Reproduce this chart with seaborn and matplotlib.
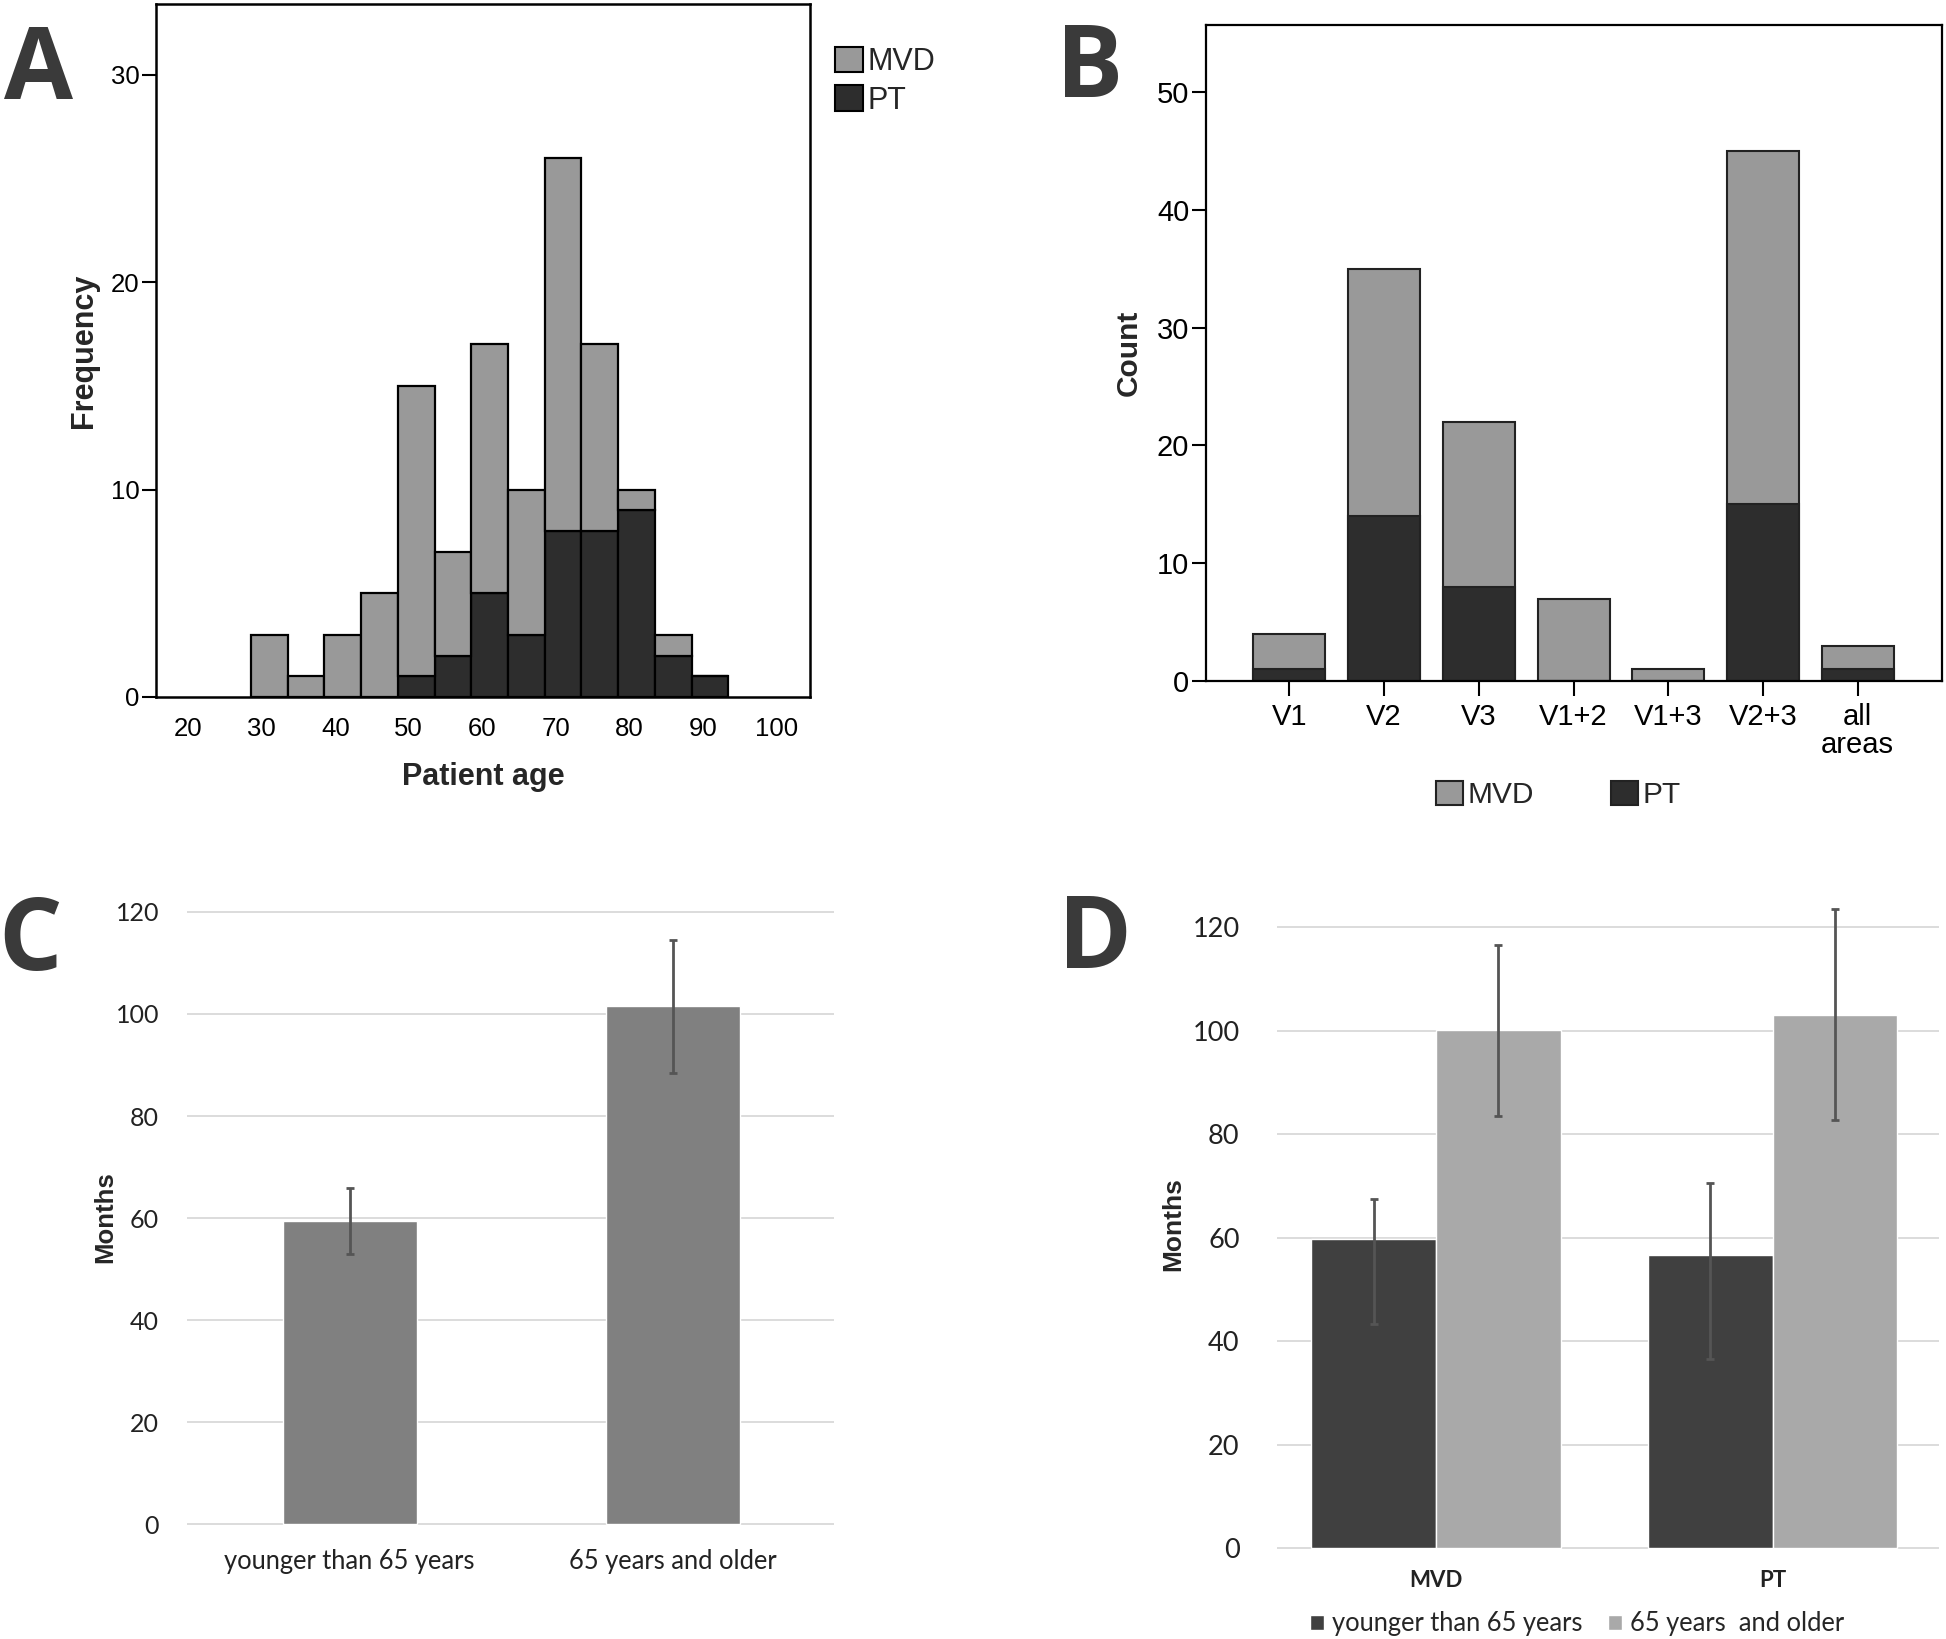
import numpy as np
import pandas as pd
import matplotlib
matplotlib.use("Agg")
import matplotlib.pyplot as plt
import seaborn as sns
from matplotlib.patches import Patch

# ---------------- data ----------------
# Panel A: stacked histogram of patient age (bin width 5)
age_bin_edges = [28.5, 33.5, 38.5, 43.5, 48.5, 53.5, 58.5, 63.5, 68.5, 73.5, 78.5, 83.5, 88.5, 93.5]
age_bin_centers = [31, 36, 41, 46, 51, 56, 61, 66, 71, 76, 81, 86, 91]
mvd_age_counts = [3, 1, 3, 5, 14, 5, 12, 7, 18, 9, 1, 1, 0]
pt_age_counts = [0, 0, 0, 0, 1, 2, 5, 3, 8, 8, 9, 2, 1]

# Panel B: affected trigeminal areas
b_categories = ["V1", "V2", "V3", "V1+2", "V1+3", "V2+3", "all\nareas"]
b_mvd = [3, 21, 14, 7, 1, 30, 2]
b_pt = [1, 14, 8, 0, 0, 15, 1]

# Panel C: months by age group
c_categories = ["younger than 65 years", "65 years and older"]
c_means = [59.4, 101.5]
c_err = [6.5, 13.0]

# Panel D: months by procedure and age group
d_groups = ["MVD", "PT"]
d_age_levels = ["younger than 65 years", "65 years  and older"]
d_young = [59.8, 56.7]
d_old = [100.1, 103.0]
d_young_err_low = [16.6, 20.2]
d_young_err_high = [7.6, 13.8]
d_old_err_low = [16.7, 20.3]
d_old_err_high = [16.5, 20.4]

# ---------------- style ----------------
sns.set_theme(style="white")
plt.rcParams["font.family"] = ["Liberation Sans", "DejaVu Sans"]

MVD_COLOR = "#999999"
PT_COLOR = "#2d2d2d"
W, H = 1946, 1639

fig = plt.figure(figsize=(W / 100, H / 100), dpi=100)
fig.patch.set_facecolor("white")


def frac(left, top, right, bottom):
    return [left / W, 1 - bottom / H, (right - left) / W, (bottom - top) / H]


# ---------------- Panel A ----------------
axA = fig.add_axes(frac(156, 4, 810, 697))
df_a = pd.DataFrame({
    "age": age_bin_centers * 2,
    "n": mvd_age_counts + pt_age_counts,
    "group": ["MVD"] * len(mvd_age_counts) + ["PT"] * len(pt_age_counts),
})
sns.histplot(df_a, x="age", weights="n", hue="group", hue_order=["MVD", "PT"],
             multiple="stack", bins=age_bin_edges,
             palette={"MVD": MVD_COLOR, "PT": PT_COLOR},
             edgecolor="black", linewidth=1.6, alpha=1, legend=False, ax=axA)
axA.set_xlim(15.6, 104.6)
axA.set_ylim(0, 33.4)
axA.set_xticks(range(20, 101, 10))
axA.set_yticks([0, 10, 20, 30])
axA.tick_params(axis="x", length=0, pad=14.5, labelsize=18.5, colors="black")
axA.tick_params(axis="y", left=True, length=10, width=1.5, pad=2, labelsize=18.5,
                direction="out", colors="black")
for s in axA.spines.values():
    s.set_visible(True)
    s.set_color("black")
    s.set_linewidth(1.8)
axA.set_xlabel("Patient age", fontsize=22, fontweight="bold", labelpad=15)
axA.set_ylabel("Frequency", fontsize=22, fontweight="bold", labelpad=8.5)
fig.legend(handles=[Patch(facecolor=MVD_COLOR, edgecolor="black", linewidth=1.5),
                    Patch(facecolor=PT_COLOR, edgecolor="black", linewidth=1.5)],
           labels=["MVD", "PT"], loc="upper left",
           bbox_to_anchor=(835 / W, 1 - 47 / H), frameon=False, fontsize=22,
           handlelength=0.9, handleheight=0.9, handletextpad=0.15,
           labelspacing=0.27, borderpad=0, borderaxespad=0)

# ---------------- Panel B ----------------
axB = fig.add_axes(frac(1206, 25, 1942, 681))
b_total = [m + p for m, p in zip(b_mvd, b_pt)]
sns.barplot(x=b_categories, y=b_total, color=MVD_COLOR, edgecolor="#222222",
            linewidth=1.5, width=0.76, saturation=1, errorbar=None, ax=axB)
sns.barplot(x=b_categories, y=b_pt, color=PT_COLOR, edgecolor="#222222",
            linewidth=1.5, width=0.76, saturation=1, errorbar=None, ax=axB)
axB.set_xlim(-0.88, 6.89)
axB.set_ylim(0, 55.7)
axB.set_yticks(range(0, 51, 10))
axB.tick_params(axis="x", bottom=True, length=11, width=1.5, pad=5, labelsize=21,
                direction="out", colors="black")
axB.tick_params(axis="y", left=True, length=10, width=1.5, pad=2, labelsize=21,
                direction="out", colors="black")
for lab in axB.get_xticklabels():
    lab.set_linespacing(1.0)
for s in axB.spines.values():
    s.set_visible(True)
    s.set_color("black")
    s.set_linewidth(1.6)
axB.set_ylabel("Count", fontsize=21.5, fontweight="bold", labelpad=10)
axB.set_xlabel("")
fig.legend(handles=[Patch(facecolor=MVD_COLOR, edgecolor="#222222", linewidth=1.5),
                    Patch(facecolor=PT_COLOR, edgecolor="#222222", linewidth=1.5)],
           labels=["MVD", "PT"], loc="center left", ncol=2,
           bbox_to_anchor=(1436 / W, 1 - 795 / H), frameon=False, fontsize=21.5,
           handlelength=0.9, handleheight=0.9, handletextpad=0.15,
           columnspacing=2.6, borderpad=0, borderaxespad=0)

# ---------------- Panel C ----------------
GRID = "#d9d9d9"
axC = fig.add_axes(frac(187, 912 - 5.1, 834, 1524 + 2.55))
sns.barplot(x=c_categories, y=c_means, color="#808080", width=0.415, saturation=1,
            errorbar=None, ax=axC, zorder=2)
for p, m, e in zip(axC.patches, c_means, c_err):
    axC.errorbar(p.get_x() + p.get_width() / 2, m, yerr=e, color="#555555",
                 lw=2, capsize=3, capthick=2, zorder=3, clip_on=False)
axC.set_xlim(-0.504, 1.5)
axC.set_ylim(-0.5, 121)
axC.set_yticks(range(0, 121, 20))
axC.grid(axis="y", color=GRID, lw=1.3)
axC.set_axisbelow(True)
for s in axC.spines.values():
    s.set_visible(False)
axC.tick_params(axis="both", length=0, labelsize=18, colors="#222222")
axC.tick_params(axis="y", pad=20)
axC.tick_params(axis="x", pad=16, labelsize=18.4)
for lab in axC.get_xticklabels() + axC.get_yticklabels():
    lab.set_fontfamily(["Lato", "DejaVu Sans"])
axC.set_ylabel("Months", fontsize=18.5, fontweight="bold", labelpad=-1)
axC.set_xlabel("")

# ---------------- Panel D ----------------
axD = fig.add_axes(frac(1277, 927 - 5.175, 1939, 1548 + 2.59))
df_d = pd.DataFrame({
    "group": d_groups * 2,
    "months": d_young + d_old,
    "age": [d_age_levels[0]] * 2 + [d_age_levels[1]] * 2,
})
sns.barplot(df_d, x="group", y="months", hue="age", hue_order=d_age_levels,
            palette=["#404040", "#a9a9a9"], width=0.74, saturation=1,
            errorbar=None, legend=False, ax=axD, zorder=2)
bars = [p for p in axD.patches if p.get_height() > 0]
errs_low = d_young_err_low + d_old_err_low
errs_high = d_young_err_high + d_old_err_high
vals = d_young + d_old
for p, v, lo, hi in zip(bars, vals, errs_low, errs_high):
    axD.errorbar(p.get_x() + p.get_width() / 2, v, yerr=[[lo], [hi]], color="#555555",
                 lw=2, capsize=3, capthick=2, zorder=3, clip_on=False)
axD.set_xlim(-0.472, 1.494)
axD.set_ylim(-0.5, 121)
axD.set_yticks(range(0, 121, 20))
axD.grid(axis="y", color=GRID, lw=1.3)
axD.set_axisbelow(True)
for s in axD.spines.values():
    s.set_visible(False)
axD.tick_params(axis="both", length=0, colors="#222222")
axD.tick_params(axis="y", pad=27, labelsize=19.5)
axD.tick_params(axis="x", pad=14, labelsize=16)
for lab in axD.get_yticklabels():
    lab.set_fontfamily(["Lato", "DejaVu Sans"])
for lab in axD.get_xticklabels():
    lab.set_fontfamily(["Lato", "DejaVu Sans"])
    lab.set_fontweight("bold")
axD.set_ylabel("Months", fontsize=19, fontweight="bold", labelpad=5, y=0.52)
axD.set_xlabel("")
fig.legend(handles=[Patch(facecolor="#404040"), Patch(facecolor="#a9a9a9")],
           labels=d_age_levels, loc="center left", ncol=2,
           bbox_to_anchor=(1310 / W, 1 - 1624 / H), frameon=False,
           prop={"family": ["Lato", "DejaVu Sans"], "size": 18.4},
           handlelength=0.55, handleheight=0.55, handletextpad=0.3,
           columnspacing=1.0, borderpad=0, borderaxespad=0)

# ---------------- panel letters ----------------
letter_kw = dict(fontsize=72, fontweight="bold", color="#3a3a3a",
                 family=["Open Sans", "DejaVu Sans"], ha="left", va="baseline")
fig.text(4 / W, 1 - 99 / H, "A", **letter_kw)
fig.text(1056 / W, 1 - 97 / H, "B", **letter_kw)
fig.text(-2 / W, 1 - 970 / H, "C", **letter_kw)
fig.text(1058 / W, 1 - 968 / H, "D", **letter_kw)

fig.savefig("out.png", dpi=100, facecolor="white")
